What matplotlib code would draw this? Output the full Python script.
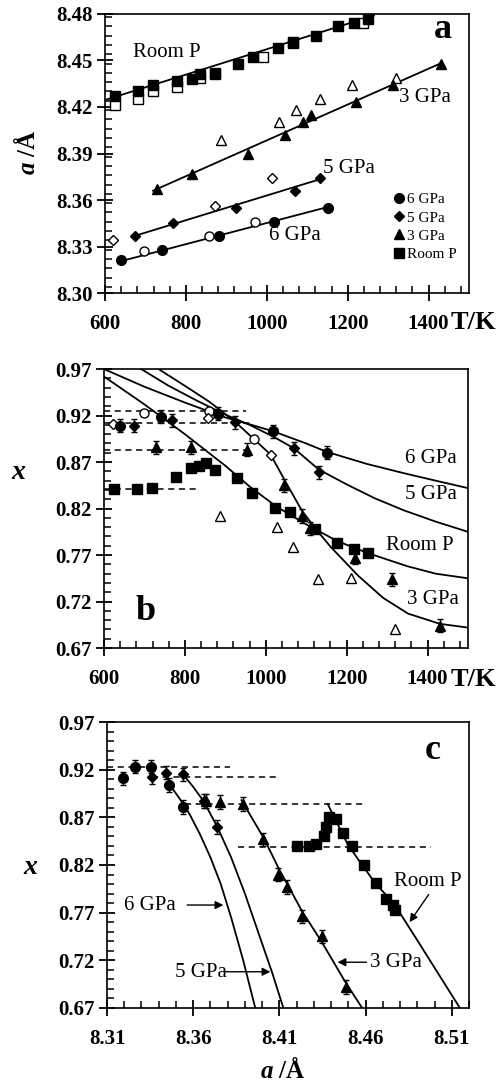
import numpy as np
import matplotlib
matplotlib.use('Agg')
from matplotlib import pyplot as plt
from matplotlib.ticker import MultipleLocator
from matplotlib.lines import Line2D

plt.rcParams['font.family'] = 'Liberation Serif'
plt.rcParams['mathtext.fontset'] = 'custom'
plt.rcParams['mathtext.it'] = 'Liberation Serif:italic:bold'
plt.rcParams['mathtext.rm'] = 'Liberation Serif:bold'

# ---------------- panel a : lattice parameter vs T ----------------
T_room = [625, 682, 719, 779, 816, 834, 873, 930, 966, 1027, 1064, 1122, 1176, 1216, 1251]
a_room = [8.427, 8.430, 8.434, 8.437, 8.438, 8.441, 8.442, 8.448, 8.452, 8.458, 8.461, 8.466, 8.472, 8.474, 8.477]
T_room_open = [625, 682, 719, 779, 834, 873, 990, 1064, 1238]
a_room_open = [8.421, 8.425, 8.430, 8.433, 8.439, 8.441, 8.452, 8.462, 8.474]

T_3 = [729, 816, 953, 1045, 1089, 1109, 1221, 1313, 1430]
a_3 = [8.367, 8.377, 8.390, 8.402, 8.410, 8.415, 8.423, 8.434, 8.448]
T_3_open = [886, 1030, 1072, 1132, 1211, 1320]
a_3_open = [8.399, 8.410, 8.418, 8.425, 8.434, 8.439]

T_5 = [675, 769, 923, 1069, 1132]
a_5 = [8.337, 8.345, 8.355, 8.366, 8.374]
T_5_open = [620, 873, 1012]
a_5_open = [8.334, 8.356, 8.374]

T_6 = [640, 741, 883, 1018, 1151]
a_6 = [8.321, 8.328, 8.337, 8.346, 8.355]
T_6_open = [697, 858, 970]
a_6_open = [8.327, 8.337, 8.346]

# straight-line fits as drawn (end points)
fit_room_T, fit_room_a = [600, 1265], [8.4245, 8.479]
fit_3_T, fit_3_a = [719, 1432], [8.366, 8.4484]
fit_5_T, fit_5_a = [675, 1139], [8.337, 8.374]
fit_6_T, fit_6_a = [640, 1151], [8.3206, 8.3555]

# ---------------- panel b : x vs T ----------------
x_6 = [0.909, 0.919, 0.922, 0.903, 0.880]
x_5 = [0.909, 0.915, 0.913, 0.885, 0.859]
x_3 = [0.886, 0.886, 0.883, 0.845, 0.812, 0.799, 0.767, 0.744, 0.694]
T_room_b = [625, 682, 719, 778, 816, 836, 853, 875, 930, 966, 1024, 1061, 1122, 1177, 1218, 1253]
x_room_b = [0.841, 0.841, 0.842, 0.854, 0.864, 0.866, 0.869, 0.862, 0.853, 0.837, 0.821, 0.816, 0.798, 0.783, 0.777, 0.772]

T_6_open_b, x_6_open_b = [699, 860, 970], [0.923, 0.925, 0.895]
T_5_open_b, x_5_open_b = [622, 858, 1012], [0.911, 0.917, 0.878]
T_3_open_b = [888, 1027, 1067, 1129, 1210, 1319]
x_3_open_b = [0.812, 0.800, 0.779, 0.744, 0.745, 0.690]

curve6_T = [600, 700, 800, 900, 965, 1019, 1100, 1151, 1250, 1342, 1420, 1500]
curve6_x = [0.970, 0.951, 0.934, 0.918, 0.910, 0.903, 0.890, 0.881, 0.868, 0.858, 0.850, 0.842]
curve5_T = [692, 760, 830, 900, 960, 1020, 1069, 1131, 1200, 1270, 1342, 1420, 1500]
curve5_x = [0.970, 0.952, 0.936, 0.921, 0.910, 0.897, 0.885, 0.862, 0.846, 0.831, 0.818, 0.806, 0.795]
curveR_T = [600, 700, 800, 900, 962, 1027, 1100, 1177, 1253, 1350, 1420, 1500]
curveR_x = [0.962, 0.932, 0.900, 0.866, 0.843, 0.822, 0.803, 0.785, 0.772, 0.758, 0.750, 0.745]
curve3_T = [735, 800, 860, 920, 970, 1012, 1050, 1089, 1120, 1160, 1228, 1290, 1352, 1431, 1500]
curve3_x = [0.970, 0.952, 0.935, 0.915, 0.895, 0.878, 0.848, 0.818, 0.800, 0.779, 0.748, 0.724, 0.707, 0.696, 0.692]

dash_b_y = [0.925, 0.912, 0.883, 0.841]
dash_b_end = [950, 960, 960, 830]

# ---------------- panel c : x vs a ----------------
c6_a = [8.3193, 8.3263, 8.3356, 8.346, 8.354]
c6_x = [0.911, 0.923, 0.923, 0.904, 0.881]
c5_a = [8.336, 8.344, 8.354, 8.366, 8.374]
c5_x = [0.912, 0.917, 0.915, 0.887, 0.860]
c3_a = [8.3676, 8.3757, 8.389, 8.4007, 8.4094, 8.4147, 8.4234, 8.435, 8.4484]
c3_x = [0.887, 0.886, 0.884, 0.847, 0.810, 0.797, 0.766, 0.745, 0.692]
cR_a = [8.4205, 8.427, 8.4315, 8.4356, 8.437, 8.4385, 8.4426, 8.447, 8.4524, 8.4588, 8.4658, 8.4716, 8.4757, 8.477]
cR_x = [0.8395, 0.8395, 0.8416, 0.850, 0.860, 0.870, 0.868, 0.854, 0.8395, 0.820, 0.801, 0.784, 0.778, 0.773]

ccurve6_a = [8.346, 8.352, 8.358, 8.364, 8.370, 8.376, 8.382, 8.389, 8.396]
ccurve6_x = [0.905, 0.890, 0.873, 0.852, 0.828, 0.800, 0.765, 0.720, 0.670]
ccurve5_a = [8.355, 8.360, 8.366, 8.374, 8.382, 8.390, 8.398, 8.406, 8.4123]
ccurve5_x = [0.913, 0.902, 0.887, 0.860, 0.828, 0.790, 0.748, 0.706, 0.670]
ccurve3_a = [8.388, 8.401, 8.410, 8.423, 8.435, 8.448, 8.458]
ccurve3_x = [0.888, 0.848, 0.815, 0.772, 0.738, 0.698, 0.670]
ccurveR_a = [8.438, 8.4495, 8.458, 8.466, 8.4763, 8.490, 8.5147]
ccurveR_x = [0.884, 0.842, 0.820, 0.800, 0.780, 0.741, 0.670]

dash_c_y = [0.923, 0.912, 0.884, 0.839]
dash_c_start = [8.31, 8.336, 8.355, 8.386]
dash_c_end = [8.3815, 8.409, 8.46, 8.498]

# tick labels
a_yticks = [8.30, 8.33, 8.36, 8.39, 8.42, 8.45, 8.48]
T_ticks = [600, 800, 1000, 1200, 1400]
x_yticks = [0.67, 0.72, 0.77, 0.82, 0.87, 0.92, 0.97]
c_xticks = [8.31, 8.36, 8.41, 8.46, 8.51]

err = 0.007
lw = 1.3
dash = (0, (4, 3))
fs = 15


def style(ax, xt, xfmt, yt, yfmt, xminor, yminor):
    ax.set_xticks(xt)
    ax.set_xticklabels([xfmt % v for v in xt], fontweight='bold', fontsize=fs)
    ax.set_yticks(yt)
    ax.set_yticklabels([yfmt % v for v in yt], fontweight='bold', fontsize=fs)
    ax.xaxis.set_minor_locator(MultipleLocator(xminor))
    ax.yaxis.set_minor_locator(MultipleLocator(yminor))
    ax.tick_params(which='major', direction='inout', length=12, width=1.3)
    ax.tick_params(which='minor', direction='in', length=5, width=1.1)
    ax.tick_params(axis='x', which='major', pad=9)
    ax.tick_params(axis='y', which='major', pad=3)
    for s in ax.spines.values():
        s.set_linewidth(1.2)


fig = plt.figure(figsize=(4.97, 10.91), dpi=100)

# ---- a ----
ax = fig.add_axes([0.2113, 0.7314, 0.7324, 0.2558])
ax.plot(fit_room_T, fit_room_a, 'k-', lw=lw)
ax.plot(fit_3_T, fit_3_a, 'k-', lw=lw)
ax.plot(fit_5_T, fit_5_a, 'k-', lw=lw)
ax.plot(fit_6_T, fit_6_a, 'k-', lw=lw)
ax.plot(T_room_open, a_room_open, 's', ms=6.5, mfc='white', mec='k', mew=1)
ax.plot(T_3_open, a_3_open, '^', ms=6.5, mfc='white', mec='k', mew=1)
ax.plot(T_5_open, a_5_open, 'D', ms=5, mfc='white', mec='k', mew=1)
ax.plot(T_6_open, a_6_open, 'o', ms=6.5, mfc='white', mec='k', mew=1)
ax.plot(T_room, a_room, 'ks', ms=6.5)
ax.plot(T_3, a_3, 'k^', ms=7.5)
ax.plot(T_5, a_5, 'kD', ms=5.5)
ax.plot(T_6, a_6, 'ko', ms=7)
ax.set_xlim(600, 1500)
ax.set_ylim(8.30, 8.48)
style(ax, T_ticks, '%d', a_yticks, '%.2f', 40, 0.006)
ax.text(752, 8.455, 'Room P', fontsize=fs, ha='center', va='center')
ax.text(1390, 8.4258, '3 GPa', fontsize=fs, ha='center', va='center')
ax.text(1139, 8.3806, '5 GPa', fontsize=fs, ha='left', va='center')
ax.text(1069, 8.3368, '6 GPa', fontsize=fs, ha='center', va='center')
ax.text(1435, 8.4697, 'a', fontsize=26, fontweight='bold', ha='center', va='center')
fig.text(0.999, 1 - 323 / 1091, 'T/K', fontsize=19, fontweight='bold', ha='right', va='center')
ax.text(-0.214, 0.505, r'$a$ /Å', transform=ax.transAxes, fontsize=18, fontweight='bold',
        rotation=90, ha='center', va='center')
handles = [Line2D([], [], color='k', marker='o', ls='none', ms=7),
           Line2D([], [], color='k', marker='D', ls='none', ms=5.5),
           Line2D([], [], color='k', marker='^', ls='none', ms=7.5),
           Line2D([], [], color='k', marker='s', ls='none', ms=6.5)]
ax.legend(handles, ['6 GPa', '5 GPa', '3 GPa', 'Room P'], loc='upper left',
          bbox_to_anchor=(0.79, 0.36), frameon=False, fontsize=11, handlelength=0.8,
          handletextpad=0.15, labelspacing=0.3, borderpad=0, borderaxespad=0)

# ---- b ----
ax = fig.add_axes([0.2093, 0.4060, 0.7323, 0.2557])
for yv, xe in zip(dash_b_y, dash_b_end):
    ax.plot([600, xe], [yv, yv], 'k', ls=dash, lw=1.1)
ax.plot(curve6_T, curve6_x, 'k-', lw=lw)
ax.plot(curve5_T, curve5_x, 'k-', lw=lw)
ax.plot(curveR_T, curveR_x, 'k-', lw=lw)
ax.plot(curve3_T, curve3_x, 'k-', lw=lw)
ax.plot(T_6_open_b, x_6_open_b, 'o', ms=6.5, mfc='white', mec='k', mew=1)
ax.plot(T_5_open_b, x_5_open_b, 'D', ms=5, mfc='white', mec='k', mew=1)
ax.plot(T_3_open_b, x_3_open_b, '^', ms=6.5, mfc='white', mec='k', mew=1)
ax.plot(T_room_b, x_room_b, 'ks', ms=6.5)
ax.errorbar(T_3, x_3, yerr=err, fmt='k^', ms=7.5, capsize=2.5, elinewidth=1)
ax.errorbar(T_5, x_5, yerr=err, fmt='kD', ms=5.5, capsize=2.5, elinewidth=1)
ax.errorbar(T_6, x_6, yerr=err, fmt='ko', ms=7, capsize=2.5, elinewidth=1)
ax.set_xlim(600, 1500)
ax.set_ylim(0.67, 0.97)
style(ax, T_ticks, '%d', x_yticks, '%.2f', 40, 0.01)
ax.text(1408, 0.874, '6 GPa', fontsize=fs, ha='center', va='center')
ax.text(1408, 0.835, '5 GPa', fontsize=fs, ha='center', va='center')
ax.text(1382, 0.780, 'Room P', fontsize=fs, ha='center', va='center')
ax.text(1414, 0.722, '3 GPa', fontsize=fs, ha='center', va='center')
ax.text(704, 0.709, 'b', fontsize=26, fontweight='bold', ha='center', va='center')
fig.text(0.999, 1 - 680 / 1091, 'T/K', fontsize=19, fontweight='bold', ha='right', va='center')
ax.text(-0.234, 0.631, r'$x$', transform=ax.transAxes, fontsize=20, ha='center', va='center')

# ---- c ----
ax = fig.add_axes([0.2153, 0.0761, 0.7284, 0.2621])
for yv, xs, xe in zip(dash_c_y, dash_c_start, dash_c_end):
    ax.plot([xs, xe], [yv, yv], 'k', ls=dash, lw=1.1)
ax.plot(ccurve6_a, ccurve6_x, 'k-', lw=lw)
ax.plot(ccurve5_a, ccurve5_x, 'k-', lw=lw)
ax.plot(ccurve3_a, ccurve3_x, 'k-', lw=lw)
ax.plot(ccurveR_a, ccurveR_x, 'k-', lw=lw)
ax.plot(cR_a, cR_x, 'ks', ms=6.5)
ax.errorbar(c3_a, c3_x, yerr=err, fmt='k^', ms=7.5, capsize=2.5, elinewidth=1)
ax.errorbar(c5_a, c5_x, yerr=err, fmt='kD', ms=5.5, capsize=2.5, elinewidth=1)
ax.errorbar(c6_a, c6_x, yerr=err, fmt='ko', ms=7, capsize=2.5, elinewidth=1)
ax.set_xlim(8.31, 8.52)
ax.set_ylim(0.67, 0.97)
style(ax, c_xticks, '%.2f', x_yticks, '%.2f', 0.01, 0.01)
arrow = dict(arrowstyle='-|>', color='k', lw=1, mutation_scale=12, shrinkA=0, shrinkB=0)
ax.text(8.335, 0.778, '6 GPa', fontsize=fs, ha='center', va='center')
ax.annotate('', xy=(8.3775, 0.778), xytext=(8.3565, 0.778), arrowprops=arrow)
ax.text(8.3647, 0.707, '5 GPa', fontsize=fs, ha='center', va='center')
ax.annotate('', xy=(8.4048, 0.708), xytext=(8.3785, 0.708), arrowprops=arrow)
ax.text(8.4774, 0.718, '3 GPa', fontsize=fs, ha='center', va='center')
ax.annotate('', xy=(8.4437, 0.718), xytext=(8.4605, 0.718), arrowprops=arrow)
ax.text(8.496, 0.803, 'Room P', fontsize=fs, ha='center', va='center')
ax.annotate('', xy=(8.4855, 0.760), xytext=(8.4966, 0.789), arrowprops=arrow)
ax.text(8.499, 0.94, 'c', fontsize=26, fontweight='bold', ha='center', va='center')
ax.text(0.486, -0.217, r'$a$ /Å', transform=ax.transAxes, fontsize=18, fontweight='bold', ha='center', va='center')
ax.text(-0.21, 0.493, r'$x$', transform=ax.transAxes, fontsize=20, ha='center', va='center')

plt.savefig('out.png', dpi=100)
